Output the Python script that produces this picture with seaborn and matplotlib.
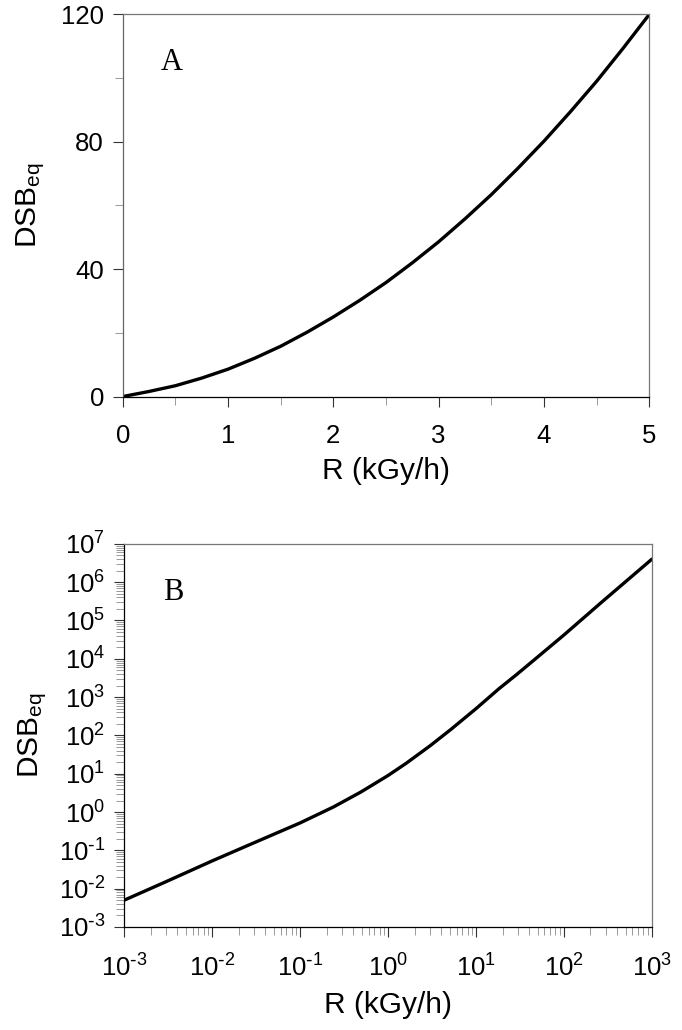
"""DSB_eq versus dose rate R: linear (A) and log-log (B) panels."""

import matplotlib

matplotlib.use("Agg")

import matplotlib.pyplot as plt
import numpy as np
import pandas as pd
import seaborn as sns
from matplotlib.ticker import FixedLocator, FuncFormatter, LogLocator, NullFormatter

# Panel A: linear axes
R_LIN = [0.0, 0.25, 0.5, 0.75, 1.0, 1.25, 1.5, 1.75, 2.0, 2.25, 2.5, 2.75,
         3.0, 3.25, 3.5, 3.75, 4.0, 4.25, 4.5, 4.75, 5.0]
DSB_LIN = [0.0, 1.6, 3.4, 5.8, 8.6, 12.0, 15.8, 20.2, 25.0, 30.2, 35.8, 42.0,
           48.6, 55.8, 63.4, 71.6, 80.2, 89.4, 99.0, 109.3, 120.0]

# Panel B: log-log axes
R_LOG = [1e-3, 2.95e-3, 1e-2, 2.75e-2, 1e-1, 0.24, 0.495, 1.0, 1.6, 3.0,
         5.15, 10.0, 18.2, 28.6, 44.9, 100.0, 270.0, 1000.0]
DSB_LOG = [5.0e-3, 1.5e-2, 5.3e-2, 0.145, 0.52, 1.36, 3.37, 9.0, 18.6, 53.5,
           142.0, 500.0, 1650.0, 3800.0, 9000.0, 4.2e4, 3.05e5, 4.0e6]

LIN_XTICKS = [0, 1, 2, 3, 4, 5]
LIN_YTICKS = [0, 40, 80, 120]
LOG_XTICKS = [1e-3, 1e-2, 1e-1, 1e0, 1e1, 1e2, 1e3]
LOG_YTICKS = [10.0 ** k for k in range(-3, 8)]

sns.set_style("ticks")
plt.rcParams["font.family"] = ["Liberation Sans", "DejaVu Sans"]
plt.rcParams["mathtext.default"] = "regular"
plt.rcParams["axes.unicode_minus"] = False
for key in ["text.color", "axes.labelcolor", "xtick.labelcolor", "ytick.labelcolor"]:
    plt.rcParams[key] = "black"

TICK_FS = 18.5
LABEL_FS = 21.5


def pow10(v, pos):
    # hyphen-style minus like the original figure
    k = int(round(np.log10(v)))
    exp = "\\text{-}" + str(-k) if k < 0 else str(k)
    return "10$^{" + exp + "}$"


fig = plt.figure(figsize=(6.82, 10.30), dpi=100)
ax_a = fig.add_axes([0.180, 0.615, 0.772, 0.371])
ax_b = fig.add_axes([0.182, 0.100, 0.774, 0.372])

df_a = pd.DataFrame({"R": R_LIN, "DSB": DSB_LIN})
df_b = pd.DataFrame({"R": R_LOG, "DSB": DSB_LOG})

sns.lineplot(data=df_a, x="R", y="DSB", ax=ax_a, color="black", linewidth=2.4,
             sort=True, estimator=None)
sns.lineplot(data=df_b, x="R", y="DSB", ax=ax_b, color="black", linewidth=2.4,
             sort=True, estimator=None)

# panel A axes
ax_a.set_xlim(0, 5)
ax_a.set_ylim(0, 120)
ax_a.xaxis.set_major_locator(FixedLocator(LIN_XTICKS))
ax_a.yaxis.set_major_locator(FixedLocator(LIN_YTICKS))
ax_a.xaxis.set_minor_locator(FixedLocator(np.arange(0.5, 5, 1.0)))
ax_a.yaxis.set_minor_locator(FixedLocator([20, 60, 100]))

# panel B axes
ax_b.set_xscale("log")
ax_b.set_yscale("log")
ax_b.set_xlim(1e-3, 1e3)
ax_b.set_ylim(1e-3, 1e7)
ax_b.xaxis.set_major_locator(FixedLocator(LOG_XTICKS))
ax_b.yaxis.set_major_locator(FixedLocator(LOG_YTICKS))
ax_b.xaxis.set_major_formatter(FuncFormatter(pow10))
ax_b.yaxis.set_major_formatter(FuncFormatter(pow10))
ax_b.xaxis.set_minor_locator(LogLocator(base=10, subs=np.arange(2, 10), numticks=100))
ax_b.yaxis.set_minor_locator(LogLocator(base=10, subs=np.arange(2, 10), numticks=100))
ax_b.xaxis.set_minor_formatter(NullFormatter())
ax_b.yaxis.set_minor_formatter(NullFormatter())

for ax, tag in [(ax_a, "A"), (ax_b, "B")]:
    for side in ["top", "right"]:
        ax.spines[side].set_visible(True)
        ax.spines[side].set_color("#777777")
        ax.spines[side].set_linewidth(0.9)
    for side in ["left", "bottom"]:
        ax.spines[side].set_color("black")
        ax.spines[side].set_linewidth(0.9)
    ax.spines["left"].set_color("#666666" if tag == "A" else "black")
    ax.tick_params(which="major", direction="out", length=7.5, width=0.8,
                   color="#333333", labelsize=TICK_FS)
    ax.tick_params(which="minor", direction="out", length=5.5, width=0.7,
                   color="#999999")
    ax.tick_params(axis="x", which="major", pad=12)
    ax.tick_params(axis="y", which="major", pad=6)
    ax.set_xlabel("R (kGy/h)", fontsize=LABEL_FS, labelpad=7)
    ax.set_ylabel("DSB$_{eq}$", fontsize=LABEL_FS)
    ax.yaxis.set_label_coords(-0.143, 0.5)
    ax.text(0.093, 0.873, tag, transform=ax.transAxes, ha="center", va="center",
            fontsize=22, family=["Liberation Serif", "DejaVu Serif"])

fig.savefig("out.png", dpi=100)
plt.close(fig)
